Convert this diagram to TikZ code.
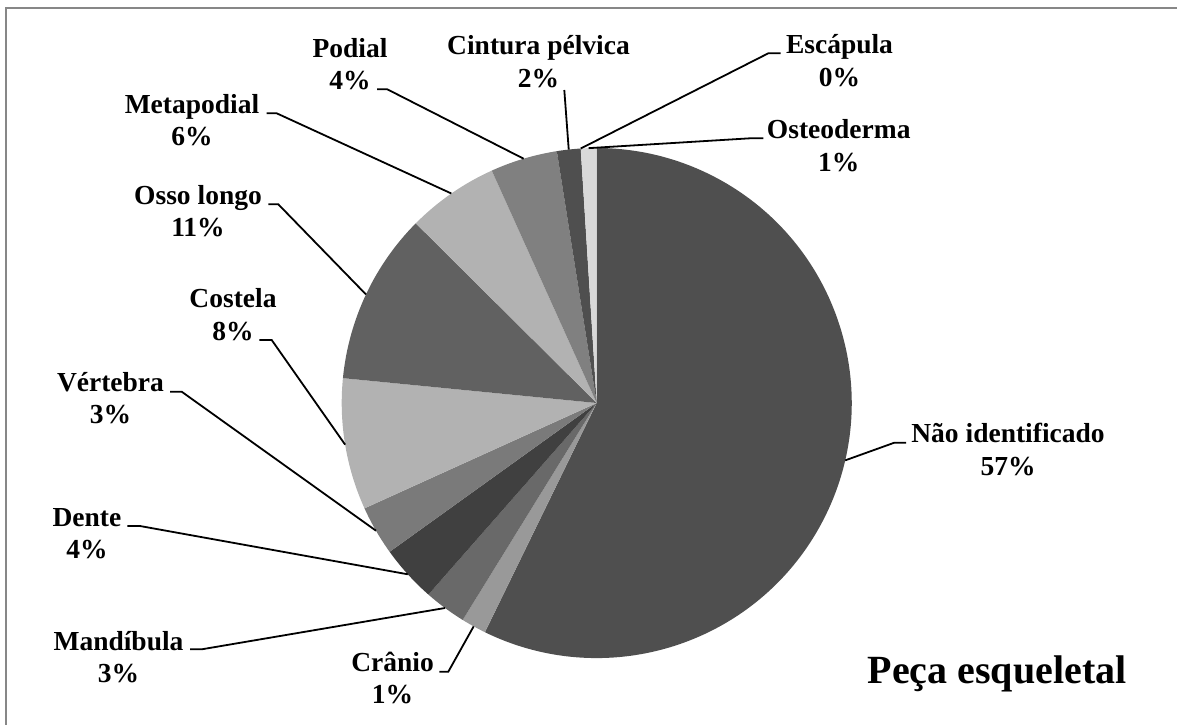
\documentclass[tikz,border=0pt]{standalone}
\usepackage{fontspec}
\setmainfont{Liberation Serif}
\usepackage{tikz}

\tikzset{
  lbl/.style={font=\fontsize{27.5}{32.2}\selectfont\bfseries, align=center, anchor=base, inner sep=0pt},
  leader/.style={black, line width=1.8pt}
}

\begin{document}
\begin{tikzpicture}[x=1pt,y=1pt]
\useasboundingbox (0,0) rectangle (1177,-724);
\draw[black!47,line width=1.5pt] (6,-735) -- (6,-8) -- (1190,-8);

% slices, from the top, clockwise
\coordinate (o) at (596.7,-403);
\foreach \a/\b/\k in {244/450/69, 238.3/244/40, 228.7/238.3/59, 215.7/228.7/75, 204.4/215.7/52, 174.4/204.4/30, 135.2/174.4/62, 114.3/135.2/30, 99/114.3/50, 93.6/99/69, 90/93.6/15}
  \fill[black!\k] (o) -- ++(\a:255) arc (\a:\b:255) -- cycle;

\path (o) ++(347:255) coordinate (eNao)
      (o) ++(241.15:255) coordinate (eCranio)
      (o) ++(233.5:255) coordinate (eMandibula)
      (o) ++(222.2:255) coordinate (eDente)
      (o) ++(210.05:255) coordinate (eVertebra)
      (o) ++(189.4:255) coordinate (eCostela)
      (o) ++(154.8:255) coordinate (eOsso)
      (o) ++(124.75:255) coordinate (eMeta)
      (o) ++(106.65:255) coordinate (ePodial)
      (o) ++(96.3:255) coordinate (eCintura)
      (o) ++(93.6:255) coordinate (eEscapula)
      (o) ++(91.8:255) coordinate (eOsteo);

% labels sit on the baseline of their second line
\node[lbl] (lNao) at (1008,-475) {Não identificado\\57\%};
\node[lbl] (lCranio) at (392.5,-703.3) {Crânio\\1\%};
\node[lbl] (lMandibula) at (118.5,-682.5) {Mandíbula\\3\%};
\node[lbl] (lDente) at (87,-558.5) {Dente\\4\%};
\node[lbl] (lVertebra) at (110.5,-423.5) {Vértebra\\3\%};
\node[lbl] (lCostela) at (233,-340) {Costela\\8\%};
\node[lbl] (lOsso) at (198,-236.5) {Osso longo\\11\%};
\node[lbl] (lMeta) at (192,-145.5) {Metapodial\\6\%};
\node[lbl] (lPodial) at (350,-89.3) {Podial\\4\%};
\node[lbl] (lCintura) at (538.5,-87) {Cintura pélvica\\2\%};
\node[lbl] (lEscapula) at (839.5,-86) {Escápula\\0\%};
\node[lbl] (lOsteo) at (838.7,-171) {Osteoderma\\1\%};

\coordinate (kNao) at (906,-442.7);
\coordinate (kCranio) at (439.3,-671.7);
\coordinate (kMandibula) at (190,-649.3);
\coordinate (kDente) at (127.3,-526);
\coordinate (kVertebra) at (170,-391.7);
\coordinate (kCostela) at (259.3,-340);
\coordinate (kOsso) at (268.3,-204.3);
\coordinate (kMeta) at (266.7,-113.3);
\coordinate (kPodial) at (377,-89.3);
\coordinate (kCintura) at (564.3,-90);
\coordinate (kEscapula) at (780.7,-53.3);
\coordinate (kOsteo) at (763.3,-138.3);

\draw[leader] (kNao) -- ++(-11.7,0) -- (eNao);
\draw[leader] (kCranio) -- ++(9,0) -- (eCranio);
\draw[leader] (kMandibula) -- ++(11.7,0) -- (eMandibula);
\draw[leader] (kDente) -- ++(12.7,0) -- (eDente);
\draw[leader] (kVertebra) -- ++(11.7,0) -- (eVertebra);
\draw[leader] (kCostela) -- ++(12.4,0) -- (eCostela);
\draw[leader] (kOsso) -- ++(10,0) -- (eOsso);
\draw[leader] (kMeta) -- ++(10,0) -- (eMeta);
\draw[leader] (kPodial) -- ++(10.3,0) -- (ePodial);
\draw[leader] (kCintura) -- (eCintura);
\draw[leader] (kEscapula) -- ++(-12.4,0) -- (eEscapula);
\draw[leader] (kOsteo) -- ++(-13.3,0) -- (eOsteo);

\node[font=\fontsize{40}{48}\selectfont\bfseries, anchor=base, inner sep=0pt] (title) at (997,-683) {Peça esqueletal};
\end{tikzpicture}
\end{document}
